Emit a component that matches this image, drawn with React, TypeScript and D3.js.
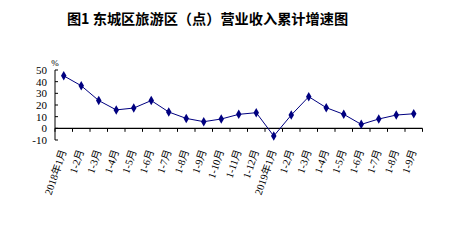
import React from "react";
import * as d3 from "d3";

const categories = [
  "2018年1月", "1-2月", "1-3月", "1-4月", "1-5月", "1-6月", "1-7月", "1-8月", "1-9月", "1-10月", "1-11月", "1-12月",
  "2019年1月", "1-2月", "1-3月", "1-4月", "1-5月", "1-6月", "1-7月", "1-8月", "1-9月",
];
const growth = [45, 36.5, 23.8, 15.8, 17.4, 23.8, 14, 8.5, 5.7, 8, 12, 13.4, -6.6, 11.4, 27.1, 17.7, 12, 3.4, 8, 11.4, 12.5];
const yTicks = [-10, 0, 10, 20, 30, 40, 50];
const title = "图1 东城区旅游区（点）营业收入累计增速图";
const unit = "%";

const W = 457;
const H = 241;
const plotLeft = 55;
const plotRight = 422.5;
const NAVY = "#000080";

export default function App() {
  const x = d3
    .scaleBand<number>()
    .domain(d3.range(categories.length))
    .range([plotLeft, plotRight])
    .paddingInner(0)
    .paddingOuter(0);
  const y = d3.scaleLinear().domain([-10, 50]).range([140, 70]);
  const cx = (i: number) => (x(i) as number) + x.bandwidth() / 2;

  const line = d3
    .line<number>()
    .x((_, i) => cx(i))
    .y((d) => y(d));
  const diamond = d3.symbol().type(d3.symbolDiamond).size(26)() as string;

  const boundaries = d3.range(categories.length + 1).map((i) => plotLeft + i * x.bandwidth());
  const labelFont = "'Liberation Serif', 'Noto Sans CJK SC', serif";

  return (
    <svg
      width={W}
      height={H}
      style={{ position: "absolute", left: 0, top: 0, background: "#fff" }}
    >
      <rect width={W} height={H} fill="#fff" />
      <text
        x={207.5}
        y={24}
        textAnchor="middle"
        fontFamily="'Noto Sans CJK SC', sans-serif"
        fontWeight="bold"
        fontSize={14.2}
        fill="#000"
      >
        {title}
      </text>
      <text x={55} y={66} textAnchor="middle" fontFamily={labelFont} fontSize={9} fill="#000">
        {unit}
      </text>
      {/* y axis */}
      <line x1={plotLeft} x2={plotLeft} y1={y(50)} y2={y(-10)} stroke="#000" strokeWidth={1} />
      {yTicks.map((t) => (
        <g key={t}>
          <line x1={plotLeft} x2={plotLeft + 3} y1={y(t)} y2={y(t)} stroke="#000" />
          <text
            x={47}
            y={y(t)}
            dy="0.35em"
            textAnchor="end"
            fontFamily={labelFont}
            fontSize={11}
            fill="#000"
          >
            {t}
          </text>
        </g>
      ))}
      {/* x axis at zero */}
      <line x1={plotLeft} x2={plotRight} y1={y(0)} y2={y(0)} stroke="#000" strokeWidth={1.2} />
      {boundaries.map((bx, i) => (
        <line key={i} x1={bx} x2={bx} y1={y(0)} y2={y(0) + 3.5} stroke="#000" />
      ))}
      {categories.map((c, i) => (
        <text
          key={i}
          transform={`translate(${cx(i) + 3},${151}) rotate(-71)`}
          textAnchor="end"
          fontFamily={labelFont}
          fontSize={10.5}
          fill="#000"
        >
          {c}
        </text>
      ))}
      <path d={line(growth) as string} fill="none" stroke={NAVY} strokeWidth={1} />
      {growth.map((v, i) => (
        <path key={i} d={diamond} transform={`translate(${cx(i)},${y(v)})`} fill={NAVY} />
      ))}
    </svg>
  );
}
